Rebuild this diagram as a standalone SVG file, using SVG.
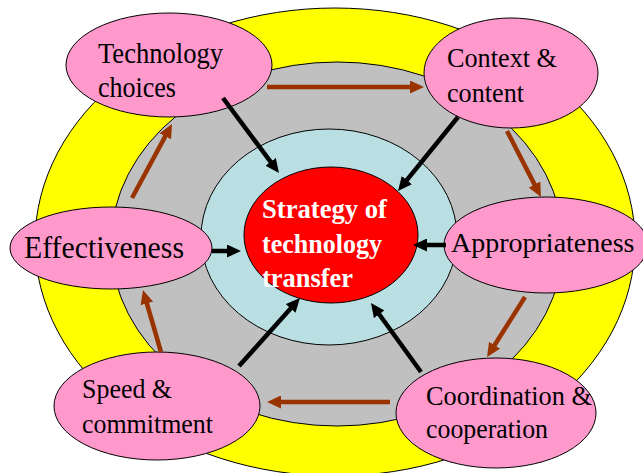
<svg xmlns="http://www.w3.org/2000/svg" width="643" height="473" viewBox="0 0 643 473">
<defs>
<style>
.ring{stroke:#000;stroke-width:1}
.node{fill:#FF99CC;stroke:#000;stroke-width:1}
.lbl{fill:#000}
.ctr{font-weight:bold;fill:#fff;font-size:27px}
.blk{stroke:#000;stroke-width:4.5;fill:none}
.brn{stroke:#993300;stroke-width:4.5;fill:none}
</style>
<marker id="hb" viewBox="0 0 14 13" markerUnits="userSpaceOnUse" markerWidth="14" markerHeight="13" refX="1" refY="6.5" orient="auto"><path d="M0,0 L14,6.5 L0,13 z" fill="#000"/></marker>
<marker id="hr" viewBox="0 0 14 13" markerUnits="userSpaceOnUse" markerWidth="14" markerHeight="13" refX="1" refY="6.5" orient="auto"><path d="M0,0 L14,6.5 L0,13 z" fill="#993300"/></marker>
</defs>
<rect width="643" height="473" fill="#fff"/>
<g id="rings">
<ellipse class="ring" cx="335" cy="242" rx="300" ry="234" fill="#FFFF00"/>
<ellipse class="ring" cx="337" cy="244" rx="226" ry="182" fill="#C0C0C0"/>
<ellipse class="ring" cx="329" cy="237" rx="128" ry="108" fill="#B9DFE3"/>
</g>
<g font-family="'Liberation Serif', 'DejaVu Serif', serif">
<g id="center">
<ellipse class="ring" cx="331" cy="235" rx="87" ry="68" fill="#FF0000"/>
<text class="ctr" x="262" y="218" textLength="125" lengthAdjust="spacingAndGlyphs">Strategy of</text>
<text class="ctr" x="262" y="253" textLength="120" lengthAdjust="spacingAndGlyphs">technology</text>
<text class="ctr" x="262" y="287" textLength="91" lengthAdjust="spacingAndGlyphs">transfer</text>
</g>
<g id="tech-choices">
<ellipse class="node" cx="169" cy="65" rx="103" ry="52"/>
<text class="lbl" font-size="29" x="98" y="63" textLength="125" lengthAdjust="spacingAndGlyphs">Technology</text>
<text class="lbl" font-size="29" x="98" y="97" textLength="78" lengthAdjust="spacingAndGlyphs">choices</text>
</g>
<g id="context-content">
<ellipse class="node" cx="511" cy="73" rx="87" ry="55"/>
<text class="lbl" font-size="28" x="447" y="67" textLength="110" lengthAdjust="spacingAndGlyphs">Context &amp;</text>
<text class="lbl" font-size="28" x="447" y="102" textLength="77" lengthAdjust="spacingAndGlyphs">content</text>
</g>
<g id="effectiveness">
<ellipse class="node" cx="111" cy="248" rx="101" ry="41"/>
<text class="lbl" font-size="31" x="24" y="258" textLength="160" lengthAdjust="spacingAndGlyphs">Effectiveness</text>
</g>
<g id="appropriateness">
<ellipse class="node" cx="546" cy="245" rx="102" ry="48"/>
<text class="lbl" font-size="28" x="451" y="252">Appropriateness</text>
</g>
<g id="speed-commitment">
<ellipse class="node" cx="157" cy="406" rx="103" ry="54"/>
<text class="lbl" font-size="27" x="82" y="398" textLength="90" lengthAdjust="spacingAndGlyphs">Speed &amp;</text>
<text class="lbl" font-size="27" x="82" y="433" textLength="131" lengthAdjust="spacingAndGlyphs">commitment</text>
</g>
<g id="coordination-cooperation">
<ellipse class="node" cx="496" cy="413" rx="100" ry="55"/>
<text class="lbl" font-size="27" x="426" y="405" textLength="166" lengthAdjust="spacingAndGlyphs">Coordination &amp;</text>
<text class="lbl" font-size="27" x="426" y="438" textLength="122" lengthAdjust="spacingAndGlyphs">cooperation</text>
</g>
</g>
<g id="connectors">
<line class="blk" x1="223" y1="98" x2="271.2" y2="162.6" marker-end="url(#hb)"/>
<line class="blk" x1="458" y1="117" x2="406.2" y2="180.9" marker-end="url(#hb)"/>
<line class="blk" x1="212" y1="251" x2="228" y2="251" marker-end="url(#hb)"/>
<line class="blk" x1="446" y1="245" x2="426" y2="245" marker-end="url(#hb)"/>
<line class="blk" x1="239" y1="366" x2="291.3" y2="307.7" marker-end="url(#hb)"/>
<line class="blk" x1="421" y1="372" x2="378.6" y2="313.5" marker-end="url(#hb)"/>
<line class="brn" x1="267" y1="87" x2="411" y2="87" marker-end="url(#hr)"/>
<line class="brn" x1="507" y1="131" x2="535" y2="185.4" marker-end="url(#hr)"/>
<line class="brn" x1="525" y1="297" x2="494" y2="346" marker-end="url(#hr)"/>
<line class="brn" x1="390" y1="402" x2="280" y2="402" marker-end="url(#hr)"/>
<line class="brn" x1="161" y1="352" x2="146.6" y2="302.5" marker-end="url(#hr)"/>
<line class="brn" x1="132" y1="198" x2="165.8" y2="135.4" marker-end="url(#hr)"/>
</g>
</svg>
